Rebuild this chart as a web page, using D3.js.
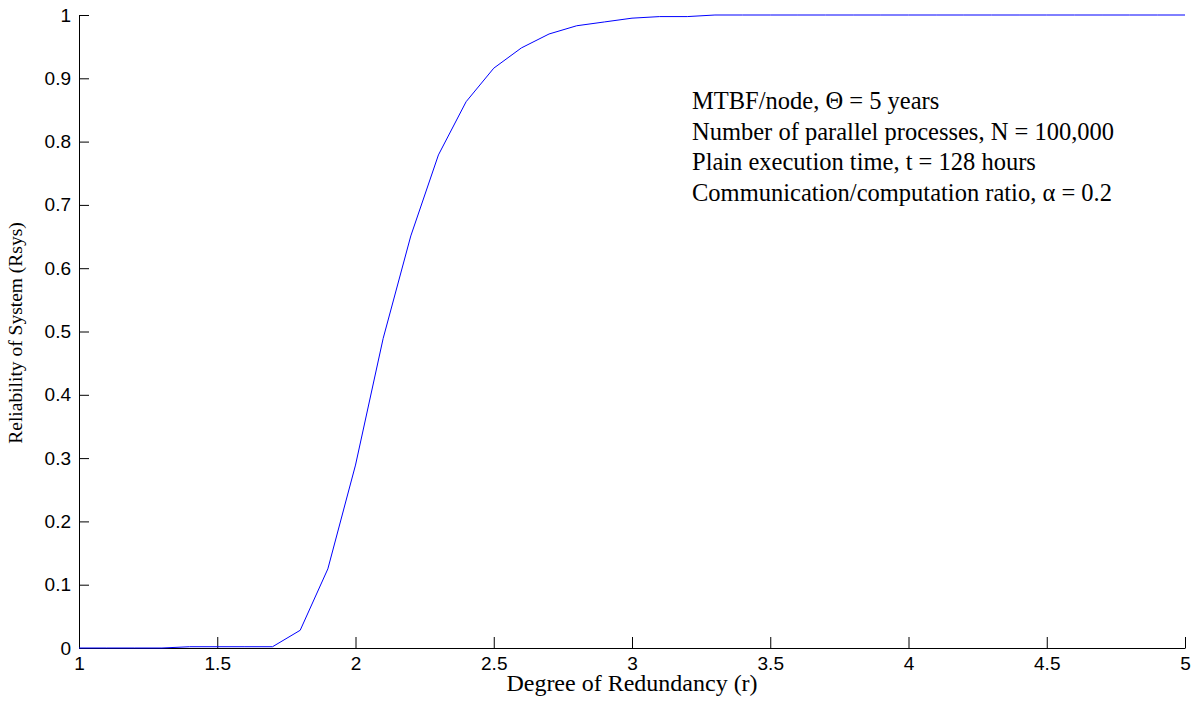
<!DOCTYPE html>
<html>
<head>
<meta charset="utf-8">
<script src="https://cdn.jsdelivr.net/npm/d3@7"></script>
<style>
  body { margin: 0; background: #fff; }
  .tick text { font-family: "Liberation Sans", Arial, sans-serif; font-size: 19px; fill: #000; }
</style>
</head>
<body>
<div id="chart"></div>
<script>
// Degree of redundancy (r) values
const redundancy = [1.0, 1.1, 1.2, 1.3, 1.4, 1.5, 1.6, 1.7, 1.8, 1.9,
                    2.0, 2.1, 2.2, 2.3, 2.4, 2.5, 2.6, 2.7, 2.8, 2.9,
                    3.0, 3.1, 3.2, 3.3, 3.4, 3.5, 3.6, 3.7, 3.8, 3.9,
                    4.0, 4.1, 4.2, 4.3, 4.4, 4.5, 4.6, 4.7, 4.8, 4.9, 5.0];
// Reliability of system (Rsys)
const reliability = [0, 0, 0, 0, 0.002, 0.002, 0.002, 0.002, 0.028, 0.125,
                     0.289, 0.489, 0.651, 0.779, 0.863, 0.916, 0.948, 0.970, 0.983, 0.989,
                     0.995, 0.9975, 0.9975, 1, 1, 1, 1, 1, 1, 1,
                     1, 1, 1, 1, 1, 1, 1, 1, 1, 1, 1];
const xTicks = [1, 1.5, 2, 2.5, 3, 3.5, 4, 4.5, 5];
const yTicks = [0, 0.1, 0.2, 0.3, 0.4, 0.5, 0.6, 0.7, 0.8, 0.9, 1];
const notes = [
    "MTBF/node, \u0398 = 5 years",
    "Number of parallel processes, N = 100,000",
    "Plain execution time, t = 128 hours",
    "Communication/computation ratio, \u03B1 = 0.2"
];

const W = 1199, H = 707;
const margin = {top: 15, right: 14, bottom: 59, left: 79};
const width = W - margin.left - margin.right;
const height = H - margin.top - margin.bottom;

const svg = d3.select("#chart")
    .append("svg")
    .attr("width", W)
    .attr("height", H)
    .append("g")
    .attr("transform", `translate(${margin.left},${margin.top})`);

const x = d3.scaleLinear().domain([1, 5]).range([0, width]);
const y = d3.scaleLinear().domain([0, 1]).range([height, 0]);

// X axis, ticks pointing inward
const xAxis = svg.append("g")
    .attr("transform", `translate(0,${height})`)
    .call(d3.axisBottom(x).tickValues(xTicks).tickSizeInner(-11).tickSizeOuter(0)
        .tickPadding(9).tickFormat(d3.format("")));
xAxis.select(".domain").attr("stroke", "#000");
xAxis.selectAll(".tick line").attr("stroke", "#000");

// Y axis
const yAxis = svg.append("g")
    .call(d3.axisLeft(y).tickValues(yTicks).tickSizeInner(-10).tickSizeOuter(0)
        .tickPadding(8).tickFormat(d3.format("")));
yAxis.select(".domain").attr("stroke", "#000");
yAxis.selectAll(".tick line").attr("stroke", "#000");

// Curve
const pts = redundancy.map((r, i) => [r, reliability[i]]);
svg.append("path")
    .datum(pts)
    .attr("fill", "none")
    .attr("stroke", "#0000ff")
    .attr("stroke-width", 1)
    .attr("d", d3.line().x(d => x(d[0])).y(d => y(d[1])));

// Axis labels
svg.append("text")
    .attr("x", width / 2)
    .attr("y", height + 43)
    .attr("text-anchor", "middle")
    .style("font-family", "'Liberation Serif', 'Times New Roman', serif")
    .style("font-size", "24px")
    .text("Degree of Redundancy (r)");

svg.append("text")
    .attr("transform", "rotate(-90)")
    .attr("x", -(333 - margin.top))
    .attr("y", -57)
    .attr("text-anchor", "middle")
    .style("font-family", "'Liberation Serif', 'Times New Roman', serif")
    .style("font-size", "19.5px")
    .text("Reliability of System (Rsys)");

// Parameter notes
const noteG = svg.append("text")
    .style("font-family", "'Liberation Serif', 'Times New Roman', serif")
    .style("font-size", "24.5px");
notes.forEach((t, i) => {
    noteG.append("tspan")
        .attr("x", 613)
        .attr("y", 94 + i * 30.7)
        .text(t);
});
</script>
</body>
</html>
